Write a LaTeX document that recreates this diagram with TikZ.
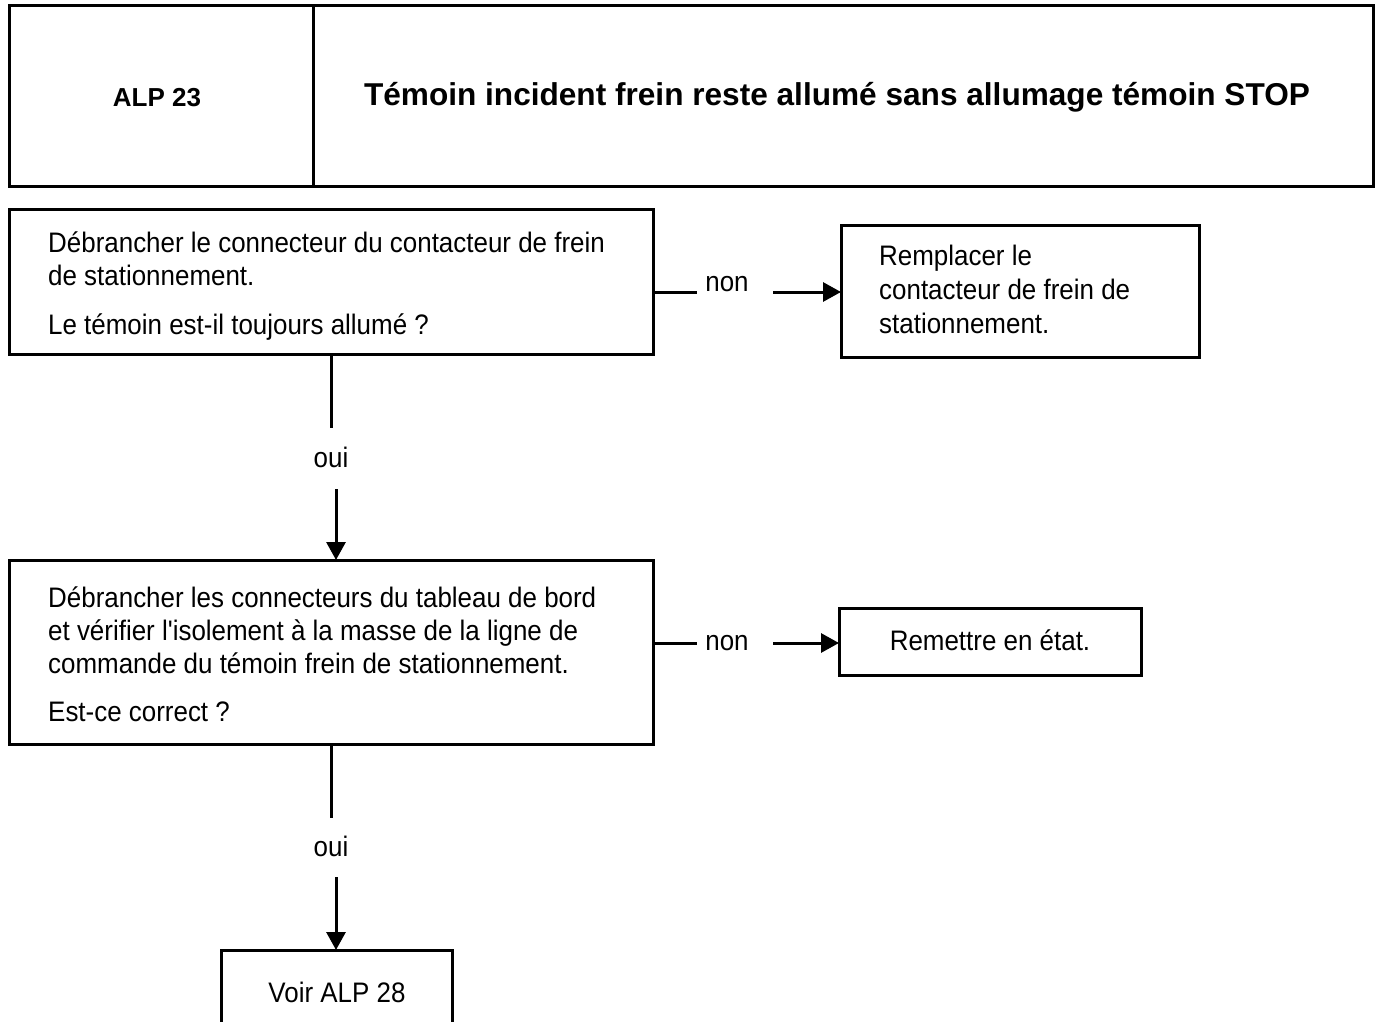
\documentclass[tikz,border=0pt]{standalone}
\usepackage{fontspec}
\setmainfont{Liberation Sans}
\newfontfamily\bodyfont[FakeStretch=0.92]{Liberation Sans}
\usetikzlibrary{arrows.meta}
\begin{document}
\begin{tikzpicture}[x=1pt,y=-1pt,
  frame/.style={draw,line width=3pt,anchor=north west,inner sep=0pt,outer sep=0pt},
  txt/.style={anchor=base west,inner sep=0pt,font=\bodyfont\fontsize{28.2}{32}\selectfont},
  ctxt/.style={anchor=base,inner sep=0pt,font=\bodyfont\fontsize{28.2}{32}\selectfont},
  link/.style={line width=3pt},
  flow/.style={line width=3pt,-{Triangle[length=18pt,width=19pt]}}]
\useasboundingbox (0,0) rectangle (1378,1022);
\clip (0,0) rectangle (1378,1022);

% header
\node[frame,minimum width=304pt,minimum height=180pt] (hl) at (9,6) {};
\node[frame,minimum width=1060pt,minimum height=180pt] (hr) at (313,6) {};
\node[anchor=base,inner sep=0pt,font=\bfseries\fontsize{26}{30}\selectfont] (code) at (157,107) {ALP 23};
\node[anchor=base,inner sep=0pt,font=\bfseries\fontsize{31.6}{36}\selectfont] (title) at (837,106) {Témoin incident frein reste allumé sans allumage témoin STOP};

% first test
\node[frame,minimum width=644pt,minimum height=145pt] (b1) at (9,209) {};
\node[txt] (b1a) at (48,252) {Débrancher le connecteur du contacteur de frein};
\node[txt] (b1b) at (48,285) {de stationnement.};
\node[txt] (b1c) at (48,334) {Le témoin est-il toujours allumé ?};

\node[frame,minimum width=358pt,minimum height=132pt] (b2) at (841,225) {};
\node[txt] (b2a) at (879,265) {Remplacer le};
\node[txt] (b2b) at (879,299) {contacteur de frein de};
\node[txt] (b2c) at (879,333) {stationnement.};

% second test
\node[frame,minimum width=644pt,minimum height=184pt] (b3) at (9,560) {};
\node[txt] (b3a) at (48,607) {Débrancher les connecteurs du tableau de bord};
\node[txt] (b3b) at (48,640) {et vérifier l'isolement à la masse de la ligne de};
\node[txt] (b3c) at (48,673) {commande du témoin frein de stationnement.};
\node[txt] (b3d) at (48,721) {Est-ce correct ?};

\node[frame,minimum width=302pt,minimum height=67pt] (b4) at (839,608) {};
\node[ctxt] (b4a) at (990,650) {Remettre en état.};

% end box
\node[frame,minimum width=231pt,minimum height=100pt] (b5) at (221,950) {};
\node[ctxt] (b5a) at (337,1002) {Voir ALP 28};

% branch labels
\node[ctxt] (n1) at (727,291) {non};
\node[ctxt] (n2) at (727,650) {non};
\node[ctxt] (o1) at (331,467) {oui};
\node[ctxt] (o2) at (331,856) {oui};

% connectors
\coordinate (n1l) at (697,292);
\coordinate (n1r) at (773,292);
\coordinate (n2l) at (697,643);
\coordinate (n2r) at (773,643);
\coordinate (o1t) at (331,428);
\coordinate (o1b) at (336,489);
\coordinate (o2t) at (331,818);
\coordinate (o2b) at (336,877);

\draw[link] (b1.east |- n1l) -- (n1l);
\draw[flow] (n1r) -- (b2.west |- n1r);
\draw[link] (b3.east |- n2l) -- (n2l);
\draw[flow] (n2r) -- (b4.west |- n2r);

\draw[link] (b1.south) -- (o1t);
\draw[flow] (o1b) -- (o1b |- b3.north);
\draw[link] (b3.south) -- (o2t);
\draw[flow] (o2b) -- (o2b |- b5.north);
\end{tikzpicture}
\end{document}
